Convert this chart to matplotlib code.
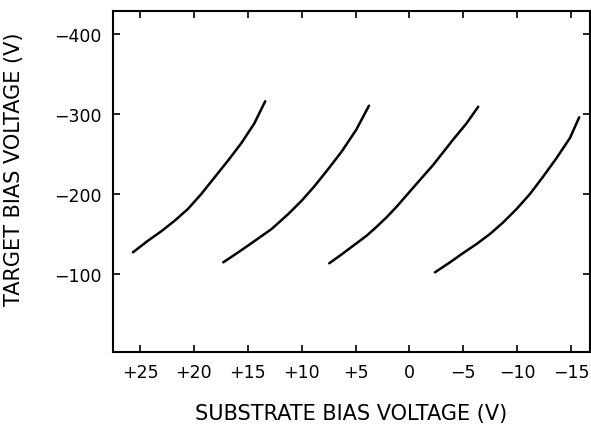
import matplotlib
matplotlib.use("Agg")
import matplotlib.pyplot as plt

# Substrate bias (V) and target bias (V) for four curves
c1_x = [25.65, 24.26, 23.02, 21.78, 20.55, 19.31, 18.07, 16.84, 15.60, 14.40, 13.38]
c1_y = [-127.1, -141.6, -153.4, -166.6, -181.3, -200.0, -220.9, -241.6, -263.5, -288.0, -315.9]
c2_x = [17.27, 15.88, 14.33, 12.78, 11.24, 10.00, 8.77, 7.53, 6.29, 4.95, 3.75]
c2_y = [-114.6, -127.1, -141.6, -156.3, -175.0, -191.6, -210.4, -231.3, -253.0, -280.0, -310.4]
c3_x = [7.44, 6.45, 5.21, 3.97, 3.04, 2.12, 1.19, 0.26, -0.97, -2.21, -3.14, -4.07, -5.30, -6.38]
c3_y = [-113.4, -122.9, -135.4, -147.9, -159.1, -170.9, -184.1, -198.5, -217.5, -236.5, -252.4, -268.3, -288.4, -309.1]
c4_x = [-2.37, -3.76, -4.99, -6.23, -7.47, -8.70, -9.94, -11.18, -12.41, -13.65, -14.89, -15.75]
c4_y = [-102.1, -114.6, -126.3, -137.5, -150.0, -164.6, -181.3, -200.0, -221.9, -245.0, -270.0, -295.9]

x_ticks = [25, 20, 15, 10, 5, 0, -5, -10, -15]
x_labels = ["+25", "+20", "+15", "+10", "+5", "0", "\u22125", "\u221210", "\u221215"]
y_ticks = [-100, -200, -300, -400]
y_labels = ["\u2212100", "\u2212200", "\u2212300", "\u2212400"]

plt.rcParams['font.family'] = ['DejaVu Sans']
fig = plt.figure(figsize=(5.91, 4.27), dpi=100)
ax = fig.add_axes([113/591, 1-353/427, (590-113)/591, (353-12)/427])

for xs, ys in [(c1_x, c1_y), (c2_x, c2_y), (c3_x, c3_y), (c4_x, c4_y)]:
    ax.plot(xs, ys, color='black', lw=1.8, solid_capstyle='round',
            solid_joinstyle='round')

ax.set_xlim(27.5, -16.75)
ax.set_ylim(-2.5, -428.75)
ax.set_xticks(x_ticks)
ax.set_xticklabels(x_labels)
ax.set_yticks(y_ticks)
ax.set_yticklabels(y_labels)
ax.tick_params(direction='in', length=5, width=1.2, top=True, right=True,
               labelsize=12.5, pad=8)
for s in ax.spines.values():
    s.set_linewidth(1.5)

ax.set_xlabel("SUBSTRATE BIAS VOLTAGE (V)", fontsize=15, labelpad=16)
ax.set_ylabel("TARGET BIAS VOLTAGE (V)", fontsize=15)
ax.yaxis.set_label_coords(-0.187, 0.54)

fig.savefig("out.png", dpi=100)
